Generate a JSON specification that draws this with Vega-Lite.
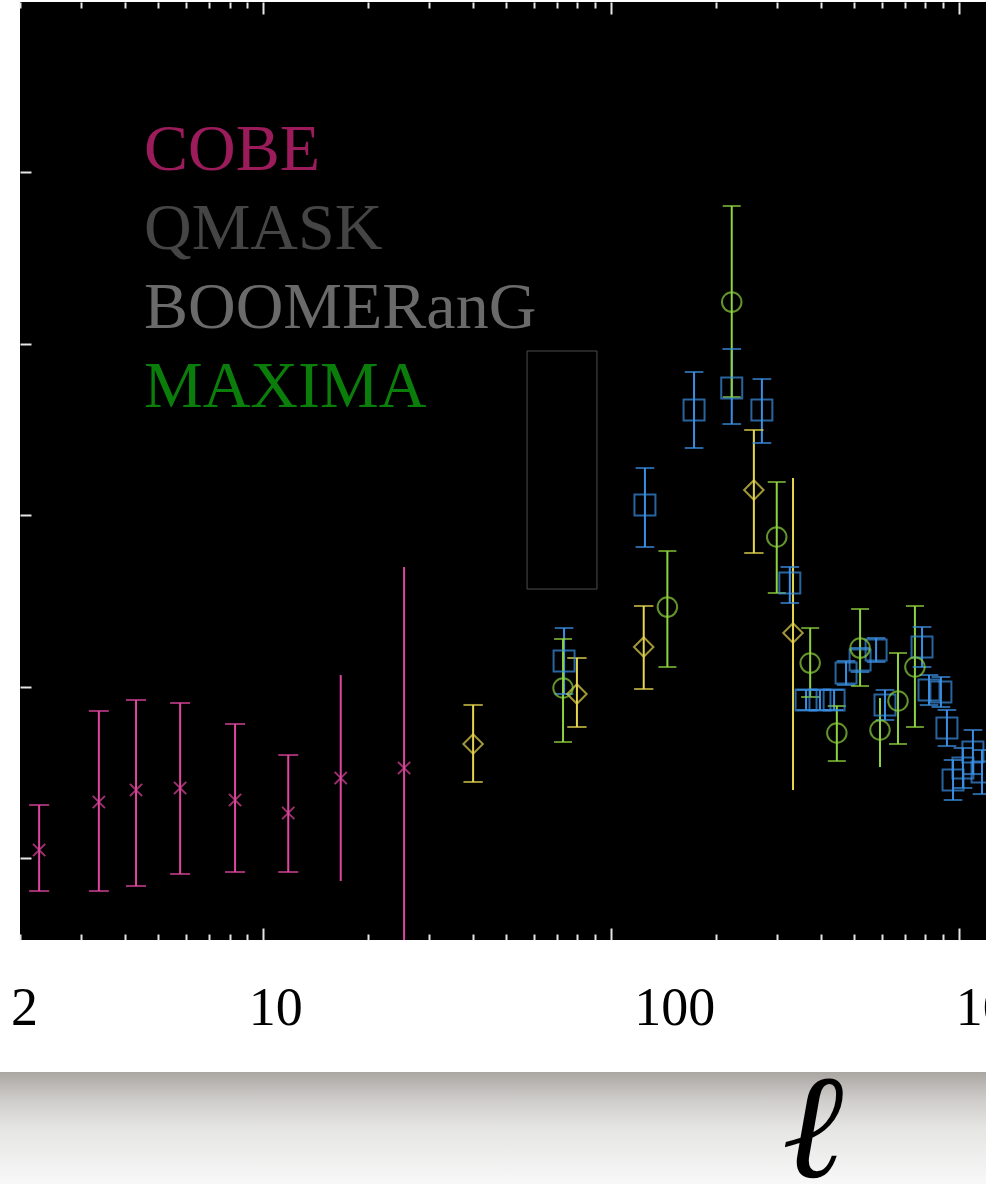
{
  "$schema": "https://vega.github.io/schema/vega-lite/v6.json",
  "background": "white",
  "padding": 0,
  "autosize": {"type": "pad"},
  "config": {"font": "Liberation Serif"},
  "columns": 1,
  "spacing": 24,
  "align": "none",
  "bounds": "full",
  "datasets": {
    "pts": [
      {"exp": "COBE", "l": 2.27, "v": 10.94, "lo": 6.15, "hi": 16.18},
      {"exp": "COBE", "l": 3.37, "v": 16.53, "lo": 6.15, "hi": 27.15},
      {"exp": "COBE", "l": 4.31, "v": 17.93, "lo": 6.74, "hi": 28.43},
      {"exp": "COBE", "l": 5.77, "v": 18.17, "lo": 8.14, "hi": 28.08},
      {"exp": "COBE", "l": 8.3, "v": 16.77, "lo": 8.37, "hi": 25.63},
      {"exp": "COBE", "l": 11.8, "v": 15.25, "lo": 8.37, "hi": 22.01},
      {"exp": "COBE", "l": 16.7, "v": 19.33, "lo": 7.32, "hi": 31.34},
      {"exp": "COBE", "l": 25.4, "v": 20.5, "lo": -1, "hi": 43.94},
      {"exp": "QMASK", "l": 40.1, "v": 23.3, "lo": 18.87, "hi": 27.85},
      {"exp": "QMASK", "l": 79.7, "v": 29.13, "lo": 25.28, "hi": 33.33},
      {"exp": "QMASK", "l": 124, "v": 34.61, "lo": 29.71, "hi": 39.39},
      {"exp": "QMASK", "l": 257, "v": 52.92, "lo": 45.57, "hi": 59.92},
      {"exp": "QMASK", "l": 333, "v": 36.24, "lo": 17.93, "hi": 54.32},
      {"exp": "BOOMERanG", "l": 73.2, "v": 32.98, "lo": 29.13, "hi": 36.82},
      {"exp": "BOOMERanG", "l": 125, "v": 51.17, "lo": 46.27, "hi": 55.48},
      {"exp": "BOOMERanG", "l": 173, "v": 62.25, "lo": 57.82, "hi": 66.68},
      {"exp": "BOOMERanG", "l": 222, "v": 64.81, "lo": 60.61, "hi": 69.36},
      {"exp": "BOOMERanG", "l": 271, "v": 62.25, "lo": 58.4, "hi": 65.86},
      {"exp": "BOOMERanG", "l": 326, "v": 42.07, "lo": 39.74, "hi": 43.94},
      {"exp": "BOOMERanG", "l": 363, "v": 28.43, "lo": 27.26, "hi": 29.6},
      {"exp": "BOOMERanG", "l": 398, "v": 28.43, "lo": 27.26, "hi": 29.6},
      {"exp": "BOOMERanG", "l": 437, "v": 28.43, "lo": 27.26, "hi": 29.6},
      {"exp": "BOOMERanG", "l": 473, "v": 31.58, "lo": 30.18, "hi": 32.98},
      {"exp": "BOOMERanG", "l": 519, "v": 33.09, "lo": 31.69, "hi": 34.49},
      {"exp": "BOOMERanG", "l": 577, "v": 34.26, "lo": 32.86, "hi": 35.66},
      {"exp": "BOOMERanG", "l": 612, "v": 27.85, "lo": 26.1, "hi": 29.6},
      {"exp": "BOOMERanG", "l": 782, "v": 34.61, "lo": 32.28, "hi": 36.94},
      {"exp": "BOOMERanG", "l": 819, "v": 29.59, "lo": 27.84, "hi": 31.34},
      {"exp": "BOOMERanG", "l": 886, "v": 29.36, "lo": 27.61, "hi": 31.11},
      {"exp": "BOOMERanG", "l": 922, "v": 25.16, "lo": 23.06, "hi": 27.26},
      {"exp": "BOOMERanG", "l": 960, "v": 19.1, "lo": 16.77, "hi": 21.43},
      {"exp": "BOOMERanG", "l": 1025, "v": 20.5, "lo": 18.17, "hi": 22.83},
      {"exp": "BOOMERanG", "l": 1095, "v": 22.36, "lo": 19.79, "hi": 24.93},
      {"exp": "BOOMERanG", "l": 1163, "v": 20.03, "lo": 17.46, "hi": 22.6},
      {"exp": "MAXIMA", "l": 72.7, "v": 29.83, "lo": 23.53, "hi": 35.54},
      {"exp": "MAXIMA", "l": 145, "v": 39.27, "lo": 32.28, "hi": 45.8},
      {"exp": "MAXIMA", "l": 222, "v": 74.84, "lo": 63.76, "hi": 86.04},
      {"exp": "MAXIMA", "l": 299, "v": 47.44, "lo": 40.91, "hi": 53.85},
      {"exp": "MAXIMA", "l": 373, "v": 32.74, "lo": 28.78, "hi": 36.82},
      {"exp": "MAXIMA", "l": 445, "v": 24.58, "lo": 21.31, "hi": 27.73},
      {"exp": "MAXIMA", "l": 519, "v": 34.49, "lo": 30.06, "hi": 39.04},
      {"exp": "MAXIMA", "l": 592, "v": 24.93, "lo": 20.61, "hi": 28.66},
      {"exp": "MAXIMA", "l": 667, "v": 28.31, "lo": 23.3, "hi": 33.91},
      {"exp": "MAXIMA", "l": 746, "v": 32.28, "lo": 25.28, "hi": 39.39}
    ],
    "box": [{"x1": 57.3, "x2": 91.0, "y1": 41.37, "y2": 69.13}]
  },
  "concat": [
    {
      "spacing": 0,
      "bounds": "full",
      "hconcat": [
        {
          "width": 1,
          "height": 1,
          "data": {"values": []},
          "mark": "point",
          "view": {"stroke": null, "fill": null}
        },
        {
          "width": 966,
          "height": 938,
          "view": {"fill": "#000000", "stroke": null},
          "resolve": {"axis": {"x": "independent"}},
          "layer": [
            {
              "data": {"name": "pts"},
              "layer": [
                {
                  "mark": {"type": "rule", "strokeWidth": 2, "clip": true},
                  "encoding": {
                    "x": {
                      "field": "l", "type": "quantitative",
                      "scale": {"type": "log", "domain": [2, 1194], "nice": false},
                      "axis": {
                        "orient": "bottom",
                        "values": [2,3,4,5,6,7,8,9,10,20,30,40,50,60,70,80,90,100,200,300,400,500,600,700,800,900,1000],
                        "format": "d",
                        "labelExpr": "indexof([2,10,100,1000], datum.value) >= 0 ? datum.label : ''",
                        "labelFont": "Liberation Serif",
                        "labelFontSize": 54,
                        "labelColor": "#000000",
                        "labelFlush": false,
                        "labelOverlap": false,
                        "labelBound": false,
                        "labelPadding": {"condition": {"test": "indexof([10,100,1000], datum.value) >= 0", "value": 53}, "value": 47},
                        "labelOffset": {"condition": [
                          {"test": "datum.value == 100", "value": 63},
                          {"test": "datum.value == 1000", "value": 50},
                          {"test": "datum.value == 10", "value": 12}
                        ], "value": 4},
                        "domain": false,
                        "grid": false,
                        "tickColor": "#e6e6e6",
                        "tickWidth": 2,
                        "tickSize": {"condition": {"test": "indexof([10,100,1000], datum.value) >= 0", "value": -12}, "value": -6},
                        "title": null
                      }
                    },
                    "y": {
                      "field": "lo", "type": "quantitative",
                      "scale": {"domain": [0.44, 109.83], "nice": false, "zero": false},
                      "axis": {
                        "orient": "left",
                        "values": [10, 30, 50, 70, 90],
                        "labels": false,
                        "domain": false,
                        "grid": false,
                        "tickColor": "#e6e6e6",
                        "tickWidth": 2,
                        "tickSize": -11,
                        "title": null,
                        "minExtent": 19,
                        "maxExtent": 19
                      }
                    },
                    "y2": {"field": "hi"},
                    "color": {
                      "field": "exp", "type": "nominal",
                      "scale": {"domain": ["COBE", "QMASK", "BOOMERanG", "MAXIMA"], "range": ["#e0469f", "#e6d64e", "#3b8fe3", "#8ed23f"]},
                      "legend": {
                        "title": null,
                        "orient": "none",
                        "legendX": 78,
                        "legendY": 115,
                        "direction": "vertical",
                        "padding": 0,
                        "symbolSize": 0,
                        "symbolOpacity": 0,
                        "symbolStrokeWidth": 0,
                        "symbolFillColor": "transparent",
                        "symbolStrokeColor": "transparent",
                        "labelOffset": 0,
                        "labelFont": "Liberation Serif",
                        "labelFontSize": 66,
                        "labelLimit": 800,
                        "rowPadding": 13,
                        "labelColor": {"expr": "datum.label == 'COBE' ? '#9b1b5b' : datum.label == 'QMASK' ? '#454545' : datum.label == 'BOOMERanG' ? '#6a6a6a' : '#0a7d0a'"},
                        "encode": {"symbols": {"update": {"opacity": {"value": 0}, "strokeOpacity": {"value": 0}, "fillOpacity": {"value": 0}}}}
                      }
                    }
                  }
                },
                {
                  "transform": [{"filter": "!((datum.exp == 'COBE' && datum.l > 15) || (datum.exp == 'QMASK' && datum.l > 300) || (datum.exp == 'MAXIMA' && datum.l > 580 && datum.l < 600))"}],
                  "mark": {"type": "tick", "orient": "horizontal", "thickness": 2, "clip": true},
                  "encoding": {
                    "x": {"field": "l", "type": "quantitative"},
                    "y": {"field": "hi", "type": "quantitative"},
                    "color": {"field": "exp", "type": "nominal"},
                    "size": {"field": "exp", "type": "ordinal", "scale": {"domain": ["COBE", "QMASK", "BOOMERanG", "MAXIMA"], "range": [20, 18, 26, 18]}, "legend": null}
                  }
                },
                {
                  "transform": [{"filter": "!((datum.exp == 'COBE' && datum.l > 15) || (datum.exp == 'QMASK' && datum.l > 300) || (datum.exp == 'MAXIMA' && datum.l > 580 && datum.l < 600))"}],
                  "mark": {"type": "tick", "orient": "horizontal", "thickness": 2, "clip": true},
                  "encoding": {
                    "x": {"field": "l", "type": "quantitative"},
                    "y": {"field": "lo", "type": "quantitative"},
                    "color": {"field": "exp", "type": "nominal"},
                    "size": {"field": "exp", "type": "ordinal", "legend": null}
                  }
                },
                {
                  "transform": [{"filter": "datum.exp == 'COBE'"}],
                  "mark": {"type": "point", "shape": "M-1,-1L1,1M-1,1L1,-1", "filled": false, "size": 150, "strokeWidth": 2},
                  "encoding": {
                    "x": {"field": "l", "type": "quantitative"},
                    "y": {"field": "v", "type": "quantitative"},
                    "color": {"field": "exp", "type": "nominal"}
                  }
                },
                {
                  "transform": [{"filter": "datum.exp == 'QMASK'"}],
                  "mark": {"type": "point", "shape": "diamond", "filled": false, "size": 380, "strokeWidth": 2},
                  "encoding": {
                    "x": {"field": "l", "type": "quantitative"},
                    "y": {"field": "v", "type": "quantitative"},
                    "color": {"field": "exp", "type": "nominal"}
                  }
                },
                {
                  "transform": [{"filter": "datum.exp == 'BOOMERanG'"}],
                  "mark": {"type": "point", "shape": "square", "filled": false, "size": 440, "strokeWidth": 2},
                  "encoding": {
                    "x": {"field": "l", "type": "quantitative"},
                    "y": {"field": "v", "type": "quantitative"},
                    "color": {"field": "exp", "type": "nominal"}
                  }
                },
                {
                  "transform": [{"filter": "datum.exp == 'MAXIMA'"}],
                  "mark": {"type": "point", "shape": "circle", "filled": false, "size": 380, "strokeWidth": 2},
                  "encoding": {
                    "x": {"field": "l", "type": "quantitative"},
                    "y": {"field": "v", "type": "quantitative"},
                    "color": {"field": "exp", "type": "nominal"}
                  }
                }
              ]
            },
            {
              "data": {"name": "box"},
              "mark": {"type": "rect", "fillOpacity": 0, "stroke": "#4d4d4d", "strokeWidth": 1},
              "encoding": {
                "x": {
                  "field": "x1", "type": "quantitative",
                  "scale": {"type": "log", "domain": [2, 1194], "nice": false},
                  "axis": {
                    "orient": "top",
                    "values": [2,3,4,5,6,7,8,9,10,20,30,40,50,60,70,80,90,100,200,300,400,500,600,700,800,900,1000],
                    "labels": false,
                    "domain": false,
                    "grid": false,
                    "tickColor": "#e6e6e6",
                    "tickWidth": 2,
                    "tickSize": {"condition": {"test": "indexof([10,100,1000], datum.value) >= 0", "value": -12}, "value": -6},
                    "title": null,
                    "minExtent": 2,
                    "maxExtent": 2
                  }
                },
                "x2": {"field": "x2"},
                "y": {"field": "y1", "type": "quantitative"},
                "y2": {"field": "y2"}
              }
            }
          ]
        }
      ]
    },
    {
      "width": 986,
      "height": 112,
      "data": {"values": []},
      "mark": "point",
      "view": {
        "stroke": null,
        "fill": {
          "gradient": "linear", "x1": 0, "y1": 0, "x2": 0, "y2": 1,
          "stops": [
            {"offset": 0, "color": "#aaa6a2"},
            {"offset": 0.25, "color": "#cfcdcb"},
            {"offset": 0.5, "color": "#e5e5e4"},
            {"offset": 1, "color": "#f8f8f8"}
          ]
        }
      },
      "title": {
        "text": "ℓ",
        "orient": "bottom",
        "anchor": "start",
        "frame": "group",
        "align": "center",
        "baseline": "alphabetic",
        "offset": 0,
        "dx": 816,
        "dy": -7,
        "font": "Liberation Serif",
        "fontSize": 148,
        "fontStyle": "italic",
        "fontWeight": "bold",
        "color": "#000000"
      }
    }
  ]
}
